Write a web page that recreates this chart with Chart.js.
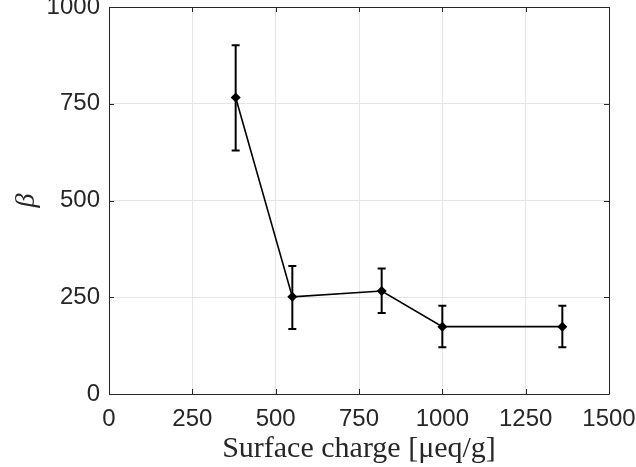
<!DOCTYPE html>
<html>
<head>
<meta charset="utf-8">
<script src="https://cdn.jsdelivr.net/npm/chart.js@4.4.1/dist/chart.umd.min.js"></script>
<style>
  html, body { margin: 0; padding: 0; background: #fff; }
  #wrap { width: 636px; height: 467px; }
</style>
</head>
<body>
<div id="wrap"><canvas id="chart" width="636" height="467"></canvas></div>
<script>
// data
const charge = [380, 550, 818, 1000, 1360];
const beta = [766, 251, 266, 174, 174];
const betaLow = [629, 168, 209, 121, 121];
const betaHigh = [901, 331, 324, 228, 228];

const xTicks = [0, 250, 500, 750, 1000, 1250, 1500];
const yTicks = [0, 250, 500, 750, 1000];

const axisColor = "#262626";

// error bars drawn through the chart scales
const errorBars = {
  id: "errorBars",
  afterDatasetsDraw(chart) {
    const { ctx, scales: { x, y } } = chart;
    ctx.save();
    ctx.strokeStyle = "#000";
    ctx.lineWidth = 2;
    charge.forEach((c, i) => {
      const px = x.getPixelForValue(c);
      const lo = y.getPixelForValue(betaLow[i]);
      const hi = y.getPixelForValue(betaHigh[i]);
      ctx.beginPath();
      ctx.moveTo(px, lo); ctx.lineTo(px, hi);
      ctx.moveTo(px - 4, lo); ctx.lineTo(px + 4, lo);
      ctx.moveTo(px - 4, hi); ctx.lineTo(px + 4, hi);
      ctx.stroke();
    });
    ctx.restore();
  }
};

// matlab style box with inward ticks on all four sides
const boxAxes = {
  id: "boxAxes",
  afterDraw(chart) {
    const { ctx, chartArea: a, scales: { x, y } } = chart;
    ctx.save();
    ctx.strokeStyle = axisColor;
    ctx.lineWidth = 1;
    ctx.beginPath();
    ctx.rect(a.left + 0.5, a.top + 0.5, a.right - a.left, a.bottom - a.top);
    const t = 5;
    xTicks.forEach(v => {
      const px = Math.round(x.getPixelForValue(v)) + 0.5;
      ctx.moveTo(px, a.bottom); ctx.lineTo(px, a.bottom - t);
      ctx.moveTo(px, a.top); ctx.lineTo(px, a.top + t);
    });
    yTicks.forEach(v => {
      const py = Math.round(y.getPixelForValue(v)) + 0.5;
      ctx.moveTo(a.left, py); ctx.lineTo(a.left + t, py);
      ctx.moveTo(a.right, py); ctx.lineTo(a.right - t, py);
    });
    ctx.stroke();
    ctx.restore();
  }
};

new Chart(document.getElementById("chart"), {
  type: "scatter",
  data: {
    datasets: [{
      data: charge.map((c, i) => ({ x: c, y: beta[i] })),
      showLine: true,
      borderColor: "#000",
      backgroundColor: "#000",
      borderWidth: 1.6,
      pointStyle: "rectRot",
      pointRadius: 5,
      pointBorderWidth: 0,
      tension: 0
    }]
  },
  options: {
    responsive: false,
    animation: false,
    layout: { padding: { left: 0, top: 7, right: 27, bottom: 0 } },
    plugins: { legend: { display: false }, tooltip: { enabled: false } },
    scales: {
      x: {
        type: "linear",
        min: 0, max: 1500,
        afterBuildTicks: s => { s.ticks = xTicks.map(v => ({ value: v })); },
        afterFit: s => { s.height = 73; s.paddingLeft = 0; s.paddingRight = 0; },
        grid: { color: "#e6e6e6", drawTicks: false },
        border: { display: false },
        ticks: {
          color: axisColor, padding: 11,
          callback: v => String(v),
          font: { family: "'Liberation Sans', Arial, sans-serif", size: 24 }
        },
        title: {
          display: true,
          text: "Surface charge [\u03bceq/g]",
          color: axisColor,
          padding: { top: 0, bottom: 0 },
          font: { family: "'Liberation Serif', 'Times New Roman', serif", size: 30 }
        }
      },
      y: {
        type: "linear",
        min: 0, max: 1000,
        afterBuildTicks: s => { s.ticks = yTicks.map(v => ({ value: v })); },
        afterFit: s => { s.width = 109; s.paddingTop = 0; s.paddingBottom = 0; },
        grid: { color: "#e6e6e6", drawTicks: false },
        border: { display: false },
        ticks: {
          color: axisColor, padding: 9,
          callback: v => String(v),
          font: { family: "'Liberation Sans', Arial, sans-serif", size: 24 }
        },
        title: {
          display: true,
          text: "\u03b2",
          color: axisColor,
          padding: { top: 10, bottom: 0 },
          font: { family: "'Liberation Serif', 'Times New Roman', serif", size: 28, style: "italic" }
        }
      }
    }
  },
  plugins: [errorBars, boxAxes]
});
</script>
</body>
</html>
